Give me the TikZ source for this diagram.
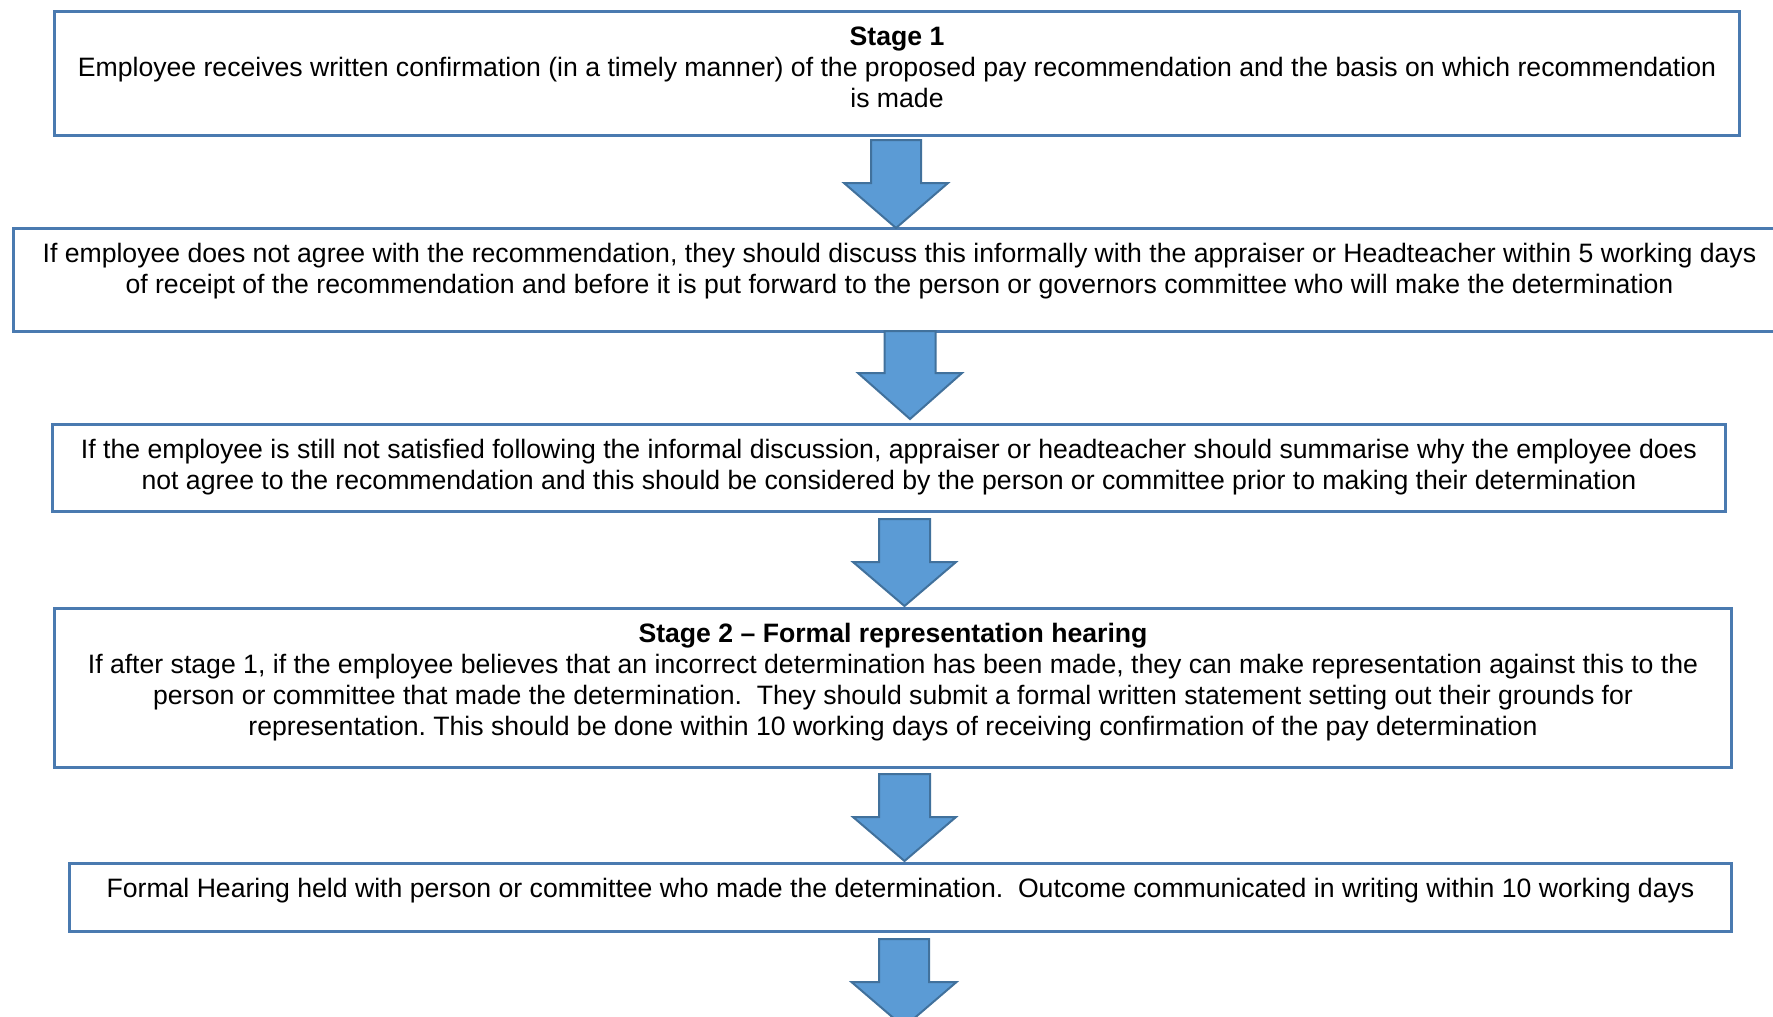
\documentclass[tikz,border=0pt]{standalone}
\usepackage{fontspec}
\setmainfont{Liberation Sans}
\definecolor{boxblue}{HTML}{4A7AB0}
\definecolor{arrowfill}{HTML}{5B9BD5}
\definecolor{arrowline}{HTML}{41719C}
\newcommand\boxcontent[3]{\parbox[c][#2][t]{#1}{\centering\rule{0pt}{13.6pt}#3\par}}
\newcommand\bl[1]{\mbox{#1}}
\tikzset{
  stagebox/.style={draw=boxblue, line width=1.2pt, fill=white, inner sep=0pt, anchor=north west,
    font=\fontsize{10.65pt}{12.4pt}\selectfont},
  blockarrow/.style={fill=arrowfill, draw=arrowline, line width=0.8pt, line join=miter}
}
% xc, ytop, yshoulder, ytip, halfshaft, halfhead
\newcommand\downblock[6]{%
  \path[blockarrow] (#1-#5,#2) -- (#1+#5,#2) -- (#1+#5,#3) -- (#1+#6,#3) -- (#1,#4)
    -- (#1-#6,#3) -- (#1-#5,#3) -- cycle;}
\begin{document}
\begin{tikzpicture}[x=0.4pt,y=-0.4pt]
\clip (0,0) rectangle (1773,1016);
\fill[white] (0,0) rectangle (1773,1016);

\node[stagebox] (b1) at (53,10) {\boxcontent{674pt}{49.6pt}{%
  \bl{\textbf{Stage 1}}\\
  \bl{Employee receives written confirmation (in a timely manner) of the proposed pay recommendation and the basis on which recommendation}\\
  \bl{is made}}};

\node[stagebox] (b2) at (12,227) {\boxcontent{708.8pt}{41.2pt}{%
  \bl{If employee does not agree with the recommendation, they should discuss this informally with the appraiser or Headteacher within 5 working days}\\
  \bl{of receipt of the recommendation and before it is put forward to the person or governors committee who will make the determination}}};

\node[stagebox] (b3) at (51,423) {\boxcontent{669.2pt}{34.8pt}{%
  \bl{If the employee is still not satisfied following the informal discussion, appraiser or headteacher should summarise why the employee does}\\
  \bl{not agree to the recommendation and this should be considered by the person or committee prior to making their determination}}};

\node[stagebox] (b4) at (53,607) {\boxcontent{670.8pt}{63.6pt}{%
  \bl{\textbf{Stage 2 – Formal representation hearing}}\\
  \bl{If after stage 1, if the employee believes that an incorrect determination has been made, they can make representation against this to the}\\
  \bl{person or committee that made the determination.\ \ They should submit a formal written statement setting out their grounds for}\\
  \bl{representation.\ This should be done within 10 working days of receiving confirmation of the pay determination}}};

\node[stagebox] (b5) at (68,862) {\boxcontent{664.8pt}{27.2pt}{%
  \bl{Formal Hearing held with person or committee who made the determination.\ \ Outcome communicated in writing within 10 working days}}};

\downblock{896}{140}{183}{228}{25}{52}
\downblock{910}{331}{373}{419}{25.5}{52}
\downblock{904.5}{519}{562}{606}{25.5}{51.5}
\downblock{904.5}{774}{817}{861}{25.5}{51.5}
\downblock{904}{939}{982}{1027}{25}{52.5}
\end{tikzpicture}
\end{document}
